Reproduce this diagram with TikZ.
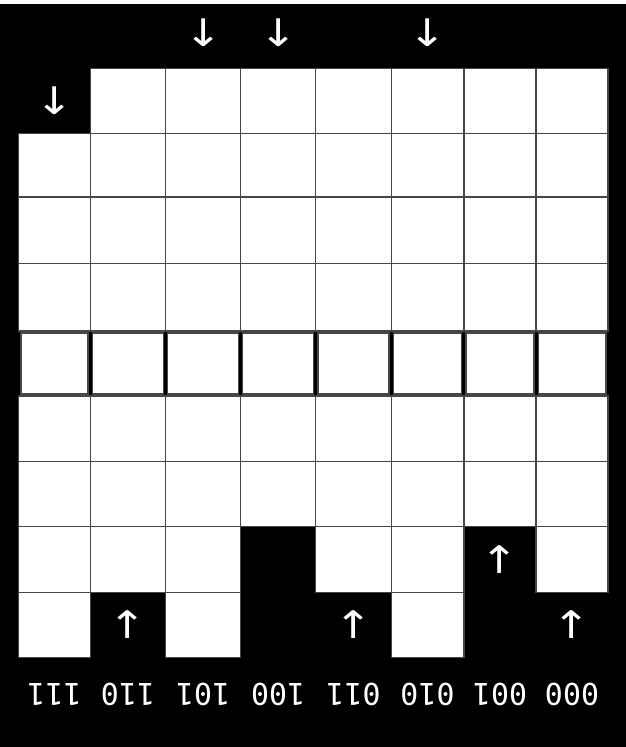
\documentclass[tikz,border=0pt]{standalone}
\usepackage{fontspec}
\setmonofont{DejaVu Sans Mono}
\newfontfamily\arrowfont{DejaVu Sans}
\begin{document}
\begin{tikzpicture}[x=1pt,y=-1pt,
  cellbox/.style={draw=black!72,fill=white,line width=1.3pt,inner sep=0pt,outer sep=0pt},
  arr/.style={text=white,font=\arrowfont\fontsize{38}{38}\selectfont,inner sep=0pt,xscale=1.2},
  lbl/.style={text=white,font=\ttfamily\fontsize{30}{30}\selectfont,inner sep=0pt,rotate=180}]
\useasboundingbox (0,0) rectangle (626,747);
\fill[white] (0,0) rectangle (626,747);
\fill[black] (0,4) rectangle (626,747);
\def\colX{{18.8,90.2,165.7,240.7,315.8,391.2,463.9,536.1,608}}
\def\rowY{{68.3,133.3,197,263.3,331,396,461.7,526.7,592.7,657.3}}
\foreach \r/\cl in {0/{1,2,3,4,5,6,7},1/{0,1,2,3,4,5,6,7},2/{0,1,2,3,4,5,6,7},3/{0,1,2,3,4,5,6,7},4/{0,1,2,3,4,5,6,7},5/{0,1,2,3,4,5,6,7},6/{0,1,2,3,4,5,6,7},7/{0,1,2,4,5,7},8/{0,2,5}}{
  \foreach \c in \cl {
    \pgfmathsetmacro\xa{\colX[\c]}
    \pgfmathsetmacro\xb{\colX[\c+1]}
    \pgfmathsetmacro\ya{\rowY[\r]}
    \pgfmathsetmacro\yb{\rowY[\r+1]}
    \pgfmathsetmacro\ins{\r==4 ? 4.2 : 0}
    \pgfmathsetmacro\w{\xb-\xa-\ins}
    \pgfmathsetmacro\h{\yb-\ya-\ins}
    \node[cellbox,minimum width=\w pt,minimum height=\h pt] (cell-\r-\c) at ({(\xa+\xb)/2},{(\ya+\yb)/2}) {};
  }
}
% arrows
\node[arr] (top2) at (203.2,33) {↓};
\node[arr] (top3) at (278.2,33) {↓};
\node[arr] (top5) at (427.5,33) {↓};
\node[arr] (r0c0) at (54.5,100.8) {↓};
\node[arr] (r7c6) at (500,559.7) {↑};
\node[arr] (r8c1) at (128,625) {↑};
\node[arr] (r8c4) at (353.5,625) {↑};
\node[arr] (r8c7) at (572,625) {↑};
% labels
\node[lbl] (lab0) at (54.5,694) {111};
\node[lbl] (lab1) at (128,694) {110};
\node[lbl] (lab2) at (203.2,694) {101};
\node[lbl] (lab3) at (278.2,694) {100};
\node[lbl] (lab4) at (353.5,694) {011};
\node[lbl] (lab5) at (427.5,694) {010};
\node[lbl] (lab6) at (500,694) {001};
\node[lbl] (lab7) at (572,694) {000};
\end{tikzpicture}
\end{document}
